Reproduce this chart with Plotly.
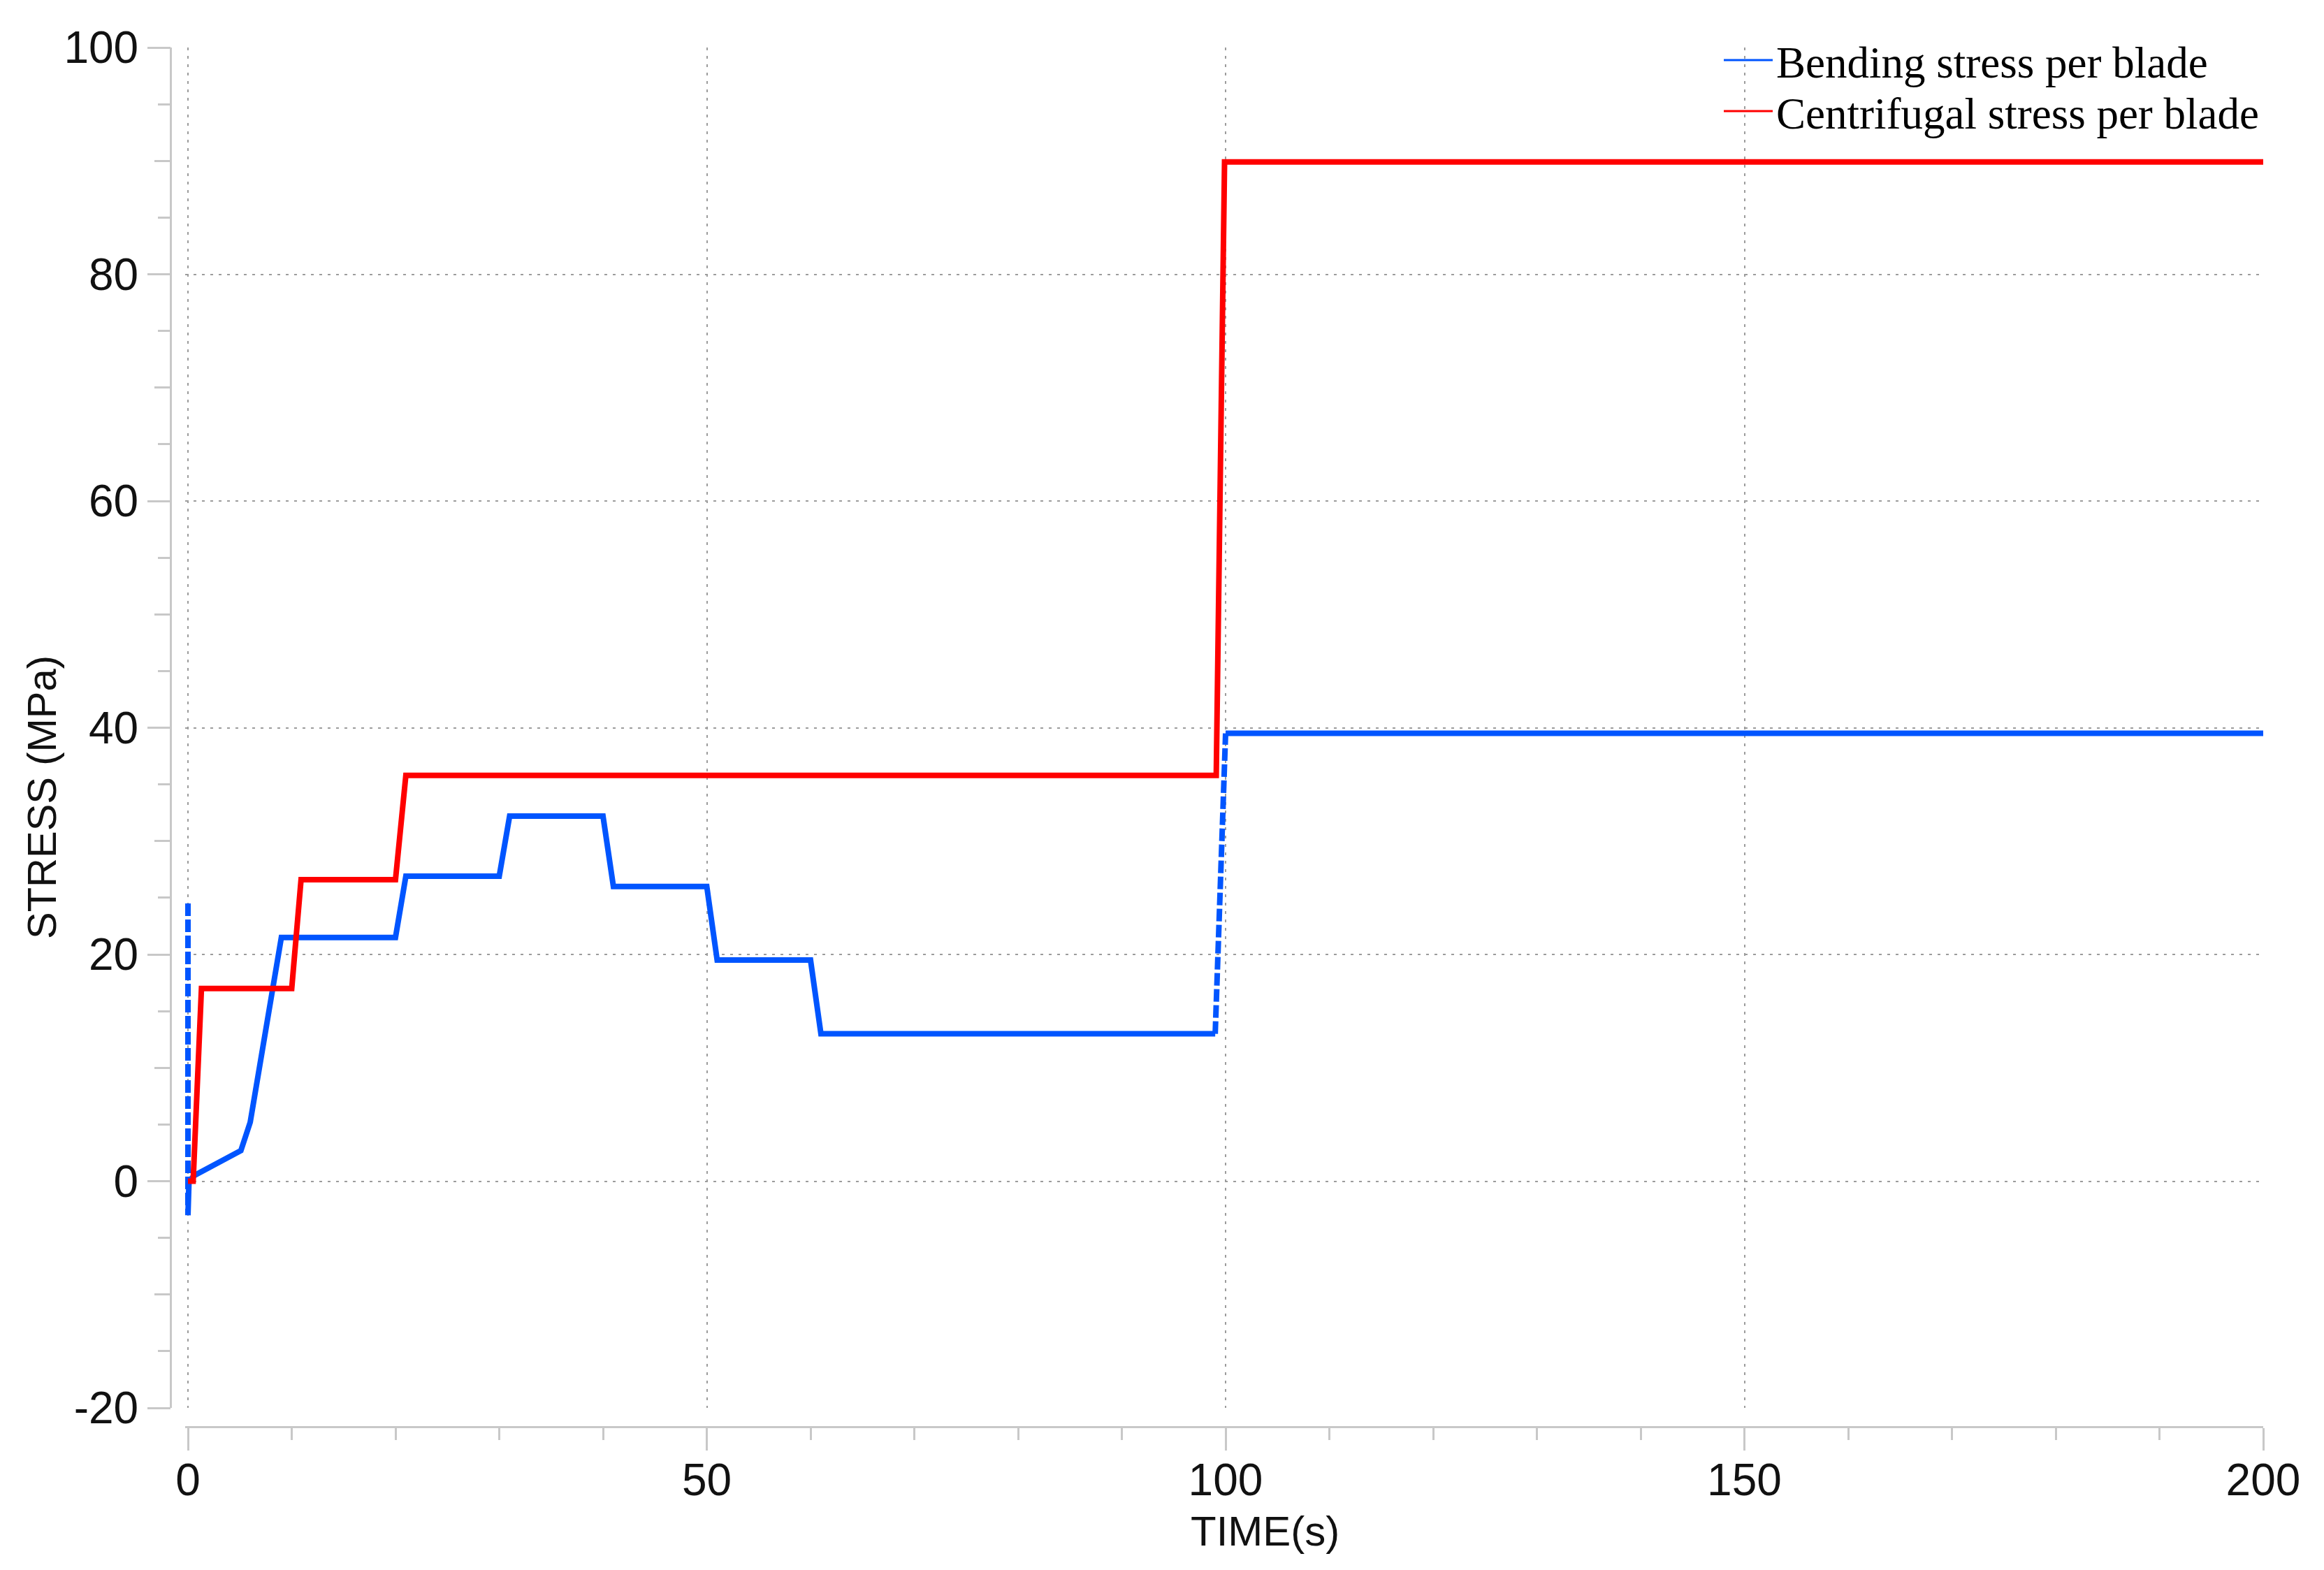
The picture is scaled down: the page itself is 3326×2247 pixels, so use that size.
import plotly.graph_objects as go

# ---- data ----
bend_x = [0, 0.1, 0.6, 5.1, 6.0, 9.0, 20.0, 21.0, 30.0, 31.0, 40.0, 41.0, 50.0, 51.0, 60.0, 61.0, 99.0, None, 100.0, 200.0]
bend_y = [-3.0, 0.0, 0.5, 2.7, 5.2, 21.5, 21.5, 26.9, 26.9, 32.2, 32.2, 26.0, 26.0, 19.5, 19.5, 13.0, 13.0, None, 39.5, 39.5]
# steep transient parts of the bending curve (drawn dashed in the reference)
bend_tr_x = [0, 0, None, 99.0, 100.0]
bend_tr_y = [24.5, -3.0, None, 13.0, 39.5]

cent_x = [0, 0.5, 1.3, 10.0, 10.9, 20.0, 21.0, 99.1, 99.9, 200.0]
cent_y = [0.0, 0.0, 17.0, 17.0, 26.6, 26.6, 35.8, 35.8, 89.9, 89.9]

x_ticks = [0, 50, 100, 150, 200]
x_tick_text = ["0", "50", "100", "150", "200"]
y_ticks = [-20, 0, 20, 40, 60, 80, 100]
y_tick_text = ["-20", "0", "20", "40", "60", "80", "100"]

series_names = ["Bending stress per blade", "Centrifugal stress per blade"]
x_title = "TIME(s)"
y_title = "STRESS (MPa)"

# ---- style ----
OFF = 8                      # default page body margin
W, H = 3326 - 2 * OFF, 2247 - 2 * OFF
# target positions in screen pixels (converted to figure pixels below)
AXL_S, PLOT_R_S, PLOT_T_S, AXB_S = 244, 3239, 68, 2042
X0_S, YBOT_S = 269, 2015
XMIN = -0.3                  # small pad so the line at t=0 is not clipped
PX_PER_X = (PLOT_R_S - X0_S) / 200.0
L = AXL_S - OFF
T = PLOT_T_S - OFF
R = W - (PLOT_R_S - OFF)
B = H - (AXB_S - OFF)
pw, ph = W - L - R, H - T - B

BLUE = "#0055ff"
RED = "#ff0000"
AX = "#c8c8c8"
GRID = "#9c9c9c"
LW = 8
TICKFONT = dict(family="Liberation Sans, Arial, sans-serif", size=64, color="#111111")
LEGFONT = dict(family="Liberation Serif, Times New Roman, serif", size=63, color="black")


def px_x(p):
    return (p - OFF - L) / pw


def px_y(p):
    return (H - B - (p - OFF)) / ph


fig = go.Figure()
fig.add_trace(go.Scatter(x=bend_tr_x, y=bend_tr_y, mode="lines", showlegend=False,
                         line=dict(color=BLUE, width=LW, dash="18px,5px"), connectgaps=False))
fig.add_trace(go.Scatter(x=bend_x, y=bend_y, mode="lines", showlegend=False,
                         line=dict(color=BLUE, width=LW), connectgaps=False))
fig.add_trace(go.Scatter(x=cent_x, y=cent_y, mode="lines", showlegend=False,
                         line=dict(color=RED, width=LW)))
# legend-only entries (thin sample lines as in the reference)
fig.add_trace(go.Scatter(x=[None], y=[None], mode="lines", name=series_names[0], legend="legend",
                         line=dict(color=BLUE, width=3)))
fig.add_trace(go.Scatter(x=[None], y=[None], mode="lines", name=series_names[1], legend="legend2",
                         line=dict(color=RED, width=3)))
# helper invisible trace so the medium-tick y axis is drawn
fig.add_trace(go.Scatter(x=[0], y=[0], yaxis="y2", mode="markers", showlegend=False,
                         marker=dict(opacity=0), hoverinfo="skip"))

leg_common = dict(xanchor="left", yanchor="middle", bgcolor="rgba(0,0,0,0)", borderwidth=0,
                  font=LEGFONT, itemwidth=70)

fig.update_layout(
    width=W, height=H,
    margin=dict(l=L, r=R, t=T, b=B, autoexpand=False),
    paper_bgcolor="white", plot_bgcolor="white",
    showlegend=True,
    legend=dict(x=px_x(2462), y=px_y(86), **leg_common),
    legend2=dict(x=px_x(2462), y=px_y(159), **leg_common),
    xaxis=dict(domain=[(X0_S + XMIN * PX_PER_X - AXL_S) / pw, 1], range=[XMIN, 200],
               anchor="free", position=0, automargin=False,
               tickmode="array", tickvals=x_ticks, ticktext=x_tick_text,
               ticks="outside", ticklen=32, tickwidth=3, tickcolor=AX,
               showline=True, linecolor=AX, linewidth=3,
               showgrid=True, gridcolor=GRID, gridwidth=2, griddash="4px,8px",
               zeroline=False, tickfont=TICKFONT, ticklabelstandoff=-13,
               minor=dict(dtick=10, tick0=0, ticks="outside", ticklen=17, tickwidth=3,
                          tickcolor=AX, showgrid=False)),
    yaxis=dict(domain=[(AXB_S - YBOT_S) / ph, 1], range=[-20, 100], anchor="free", position=0,
               automargin=False,
               tickmode="array", tickvals=y_ticks, ticktext=y_tick_text,
               ticks="outside", ticklen=32, tickwidth=3, tickcolor=AX,
               showline=True, linecolor=AX, linewidth=3,
               showgrid=True, gridcolor=GRID, gridwidth=2, griddash="4px,8px",
               zeroline=False, tickfont=TICKFONT, ticklabelstandoff=0,
               minor=dict(dtick=5, tick0=0, ticks="outside", ticklen=17, tickwidth=3,
                          tickcolor=AX, showgrid=False)),
    yaxis2=dict(overlaying="y", range=[-20, 100], anchor="free", position=0, automargin=False,
                tickmode="linear", tick0=0, dtick=10, ticks="outside", ticklen=23,
                tickwidth=3, tickcolor=AX, showticklabels=False, showgrid=False,
                showline=False, zeroline=False),
    annotations=[
        dict(text=y_title, textangle=-90, xref="paper", yref="paper",
             x=px_x(59), y=px_y(1141), xanchor="center", yanchor="middle",
             showarrow=False, font=dict(family="Liberation Sans, Arial, sans-serif", size=58, color="#111111")),
        dict(text=x_title, xref="paper", yref="paper",
             x=px_x(1810), y=px_y(2191), xanchor="center", yanchor="middle",
             showarrow=False, font=dict(family="Liberation Sans, Arial, sans-serif", size=60, color="#111111")),
    ],
)

fig.write_html("out.html")
